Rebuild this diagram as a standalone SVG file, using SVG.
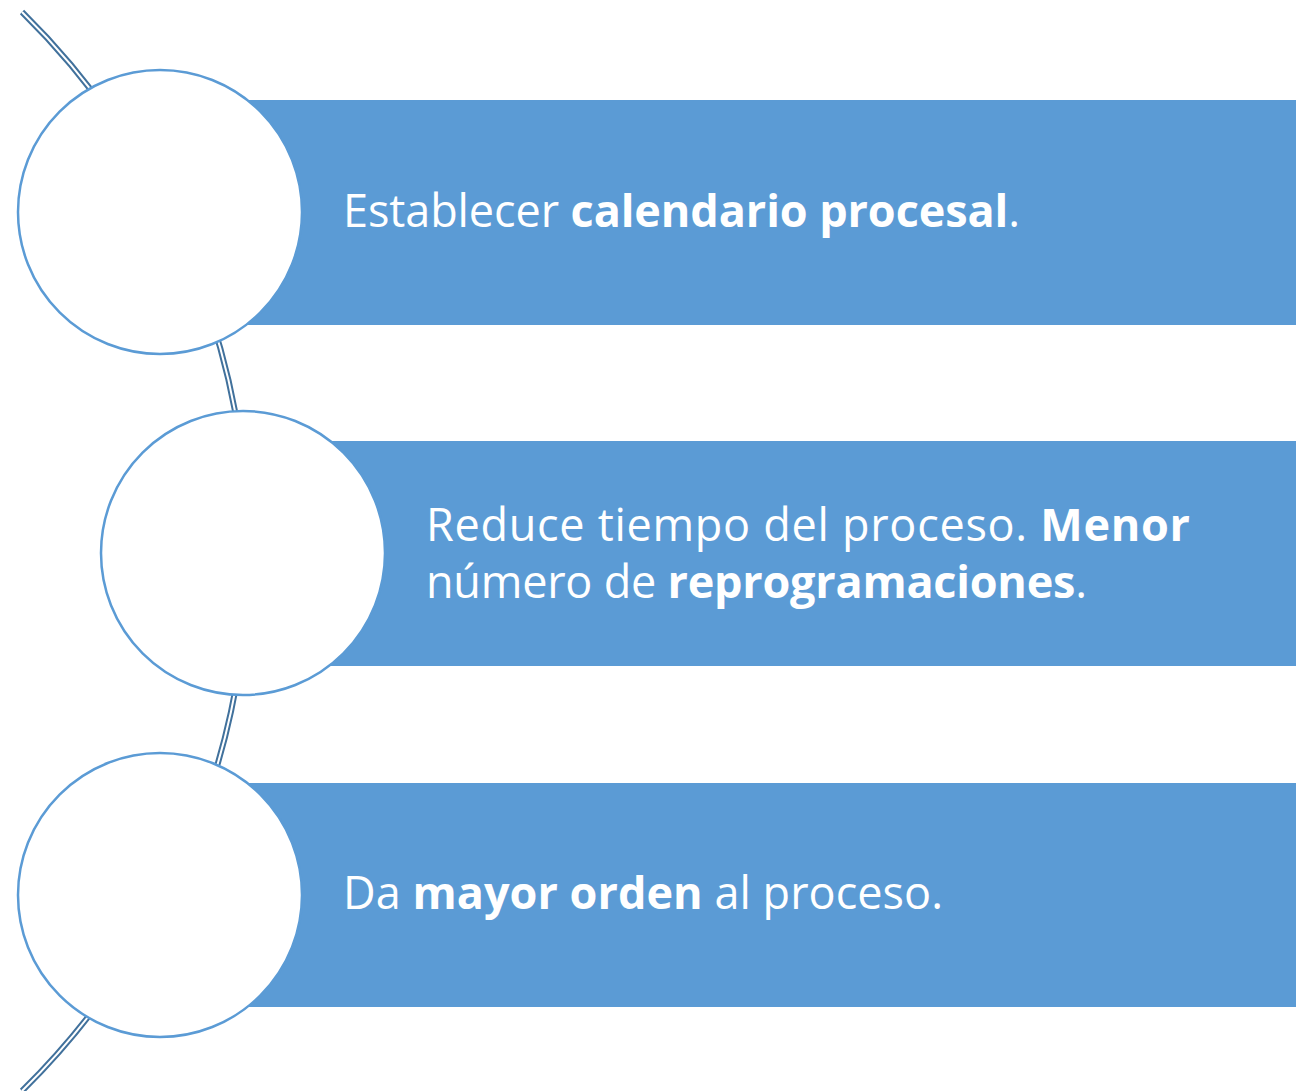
<svg xmlns="http://www.w3.org/2000/svg" width="1296" height="1091" viewBox="0 0 1296 1091">
<style>
.bar{fill:#5B9BD5}
.node{fill:#FFFFFF;stroke:#5B9BD5;stroke-width:2.5}
.arcO{fill:none;stroke:#41719C;stroke-width:6}
.arcI{fill:none;stroke:#FFFFFF;stroke-width:2}
.t{font-family:"Open Sans","Liberation Sans",sans-serif;font-size:45px;fill:#FFFFFF}
.b{font-weight:bold}
</style>
<rect width="1296" height="1091" fill="#FFFFFF"/>
<g id="connectors">
<path class="arcO" d="M 22 12 A 757 757 0 0 1 22 1091"/>
<path class="arcI" d="M 22 12 A 757 757 0 0 1 22 1091"/>
</g>
<g id="node1">
<rect class="bar" x="160" y="100" width="1136" height="225"/>
<circle class="node" cx="160" cy="212" r="142"/>
<text class="t" x="343" y="227" textLength="677" lengthAdjust="spacing">Establecer <tspan class="b">calendario procesal</tspan>.</text>
</g>
<g id="node2">
<rect class="bar" x="243" y="441" width="1053" height="225"/>
<circle class="node" cx="243" cy="553" r="142"/>
<text class="t" x="426" y="541" textLength="764" lengthAdjust="spacing">Reduce tiempo del proceso. <tspan class="b">Menor</tspan></text>
<text class="t" x="426" y="598" textLength="661" lengthAdjust="spacing">número de <tspan class="b">reprogramaciones</tspan>.</text>
</g>
<g id="node3">
<rect class="bar" x="160" y="783" width="1136" height="224"/>
<circle class="node" cx="160" cy="895" r="142"/>
<text class="t" x="343" y="909" textLength="600" lengthAdjust="spacing">Da <tspan class="b">mayor orden</tspan> al proceso.</text>
</g>
</svg>
